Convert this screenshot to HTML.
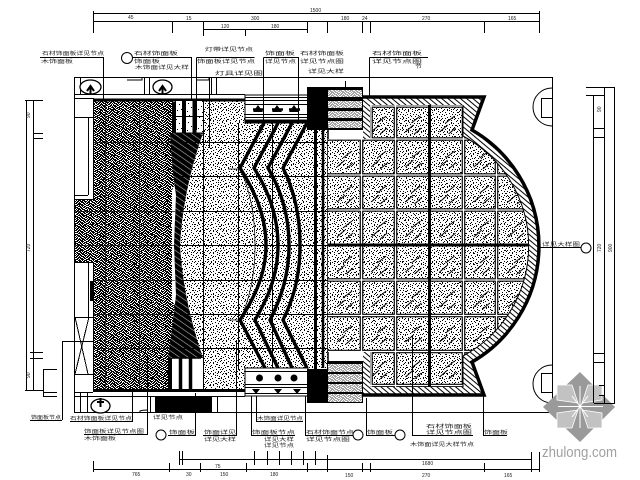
<!DOCTYPE html>
<html><head><meta charset="utf-8"><style>
html,body{margin:0;padding:0;background:#fff;width:640px;height:480px;overflow:hidden}
svg{display:block}
text{font-family:"Liberation Sans","Noto Sans CJK SC",sans-serif;font-size:5px;fill:#222}
</style></head><body>
<svg width="640" height="480" viewBox="0 0 640 480" xmlns="http://www.w3.org/2000/svg">
<defs>
<pattern id="la" patternUnits="userSpaceOnUse" width="13" height="11"><path shape-rendering="crispEdges" stroke="#000" d="M1 .5h1M5 .5h1M9 1.5h1M3 2.5h1M11 2.5h1M7 3.5h1M0 4.5h1M4 4.5h1M10 4.5h1M2 5.5h1M8 6.5h1M12 6.5h1M5 7.5h1M0 8.5h1M3 8.5h1M10 8.5h1M7 9.5h1M12 9.5h1M2 10.5h1M5 10.5h1M9 10.5h1"/></pattern>
<pattern id="lb" patternUnits="userSpaceOnUse" width="17" height="19"><path shape-rendering="crispEdges" stroke="#000" d="M2 1.5h1M12 3.5h1M6 5.5h1M15 6.5h1M1 8.5h1M9 9.5h1M14 11.5h1M4 12.5h1M11 14.5h1M7 15.5h1M0 16.5h1M15 17.5h1"/></pattern>
<pattern id="lw" patternUnits="userSpaceOnUse" width="17" height="19"><path shape-rendering="crispEdges" stroke="#fff" d="M2 1.500h2M12 3.500h1M6 5.500h2M15 6.500h1M1 8.500h1M9 9.500h2M14 11.500h1M4 12.500h2M11 14.500h1M7 15.500h1M0 16.500h2M15 17.500h1"/></pattern>
<pattern id="dk" patternUnits="userSpaceOnUse" width="11" height="9"><rect width="11" height="9" fill="#000"/><path shape-rendering="crispEdges" stroke="#fff" d="M1 .5h2M5 .5h1M8 .5h1M3 1.5h1M6 1.5h2M10 1.5h1M0 2.5h1M4 2.5h1M8 2.5h2M2 3.5h1M5 3.5h2M10 3.5h1M1 4.5h1M3 4.5h1M7 4.5h1M9 4.5h1M0 5.5h1M4 5.5h2M8 5.5h1M2 6.5h1M6 6.5h1M9 6.5h2M1 7.5h1M3 7.5h1M7 7.5h2M0 8.5h1M4 8.5h1M6 8.5h1M10 8.5h1"/></pattern>
<pattern id="ha" patternUnits="userSpaceOnUse" width="4" height="4" patternTransform="rotate(-50)"><rect width="4" height="4" fill="#fff"/><rect width="1" height="4" fill="#000"/></pattern>
<pattern id="hw" patternUnits="userSpaceOnUse" width="5" height="5" patternTransform="rotate(-55)"><rect width=".6" height="5" fill="#fff" fill-opacity=".7"/></pattern>
<pattern id="tl" patternUnits="userSpaceOnUse" x="328" y="107" width="34.2" height="35"><path stroke="#000" fill="none" stroke-width="1" d="M9 25L17 18M15 16L24 9M18 27L25 21"/></pattern>
<clipPath id="inner"><path d="M328 139H370V105H463V136A125 125 0 0 1 463 356V387H370V352H328Z"/></clipPath>
</defs>
<rect width="640" height="480" fill="#fff"/>

<!-- dark floor -->
<path d="M93 100H176V134H203L172 190V300L203 358H168V390H93V262H75V199H93Z" fill="url(#dk)"/>
<path d="M93 100H176V134H172V358H168V390H93V262H75V199H93Z" fill="url(#lw)"/>
<path d="M93 100H176V134H172V358H168V390H93V262H75V199H93Z" fill="url(#lb)"/>
<!-- light floor -->
<path d="M203 100H245V123H328V370H245V390H203V358Q183 300 180 245Q183 190 203 134Z" fill="#fff"/>
<path d="M203 100H245V123H328V370H245V390H203V358Q183 300 180 245Q183 190 203 134Z" fill="url(#la)"/>
<path d="M203 100H245V123H328V370H245V390H203V358Q183 300 180 245Q183 190 203 134Z" fill="url(#lb)"/>
<!-- dense wedge -->
<path d="M203 133H170Q172 170 176 195L174 245L176 295Q172 330 168 358H203Q183 300 180 245Q183 190 203 133Z" fill="#000"/>
<path d="M203 133H170Q172 170 176 195L174 245L176 295Q172 330 168 358H203Q183 300 180 245Q183 190 203 133Z" fill="url(#hw)"/>

<!-- floor grid -->
<g stroke="#000" stroke-width="1" fill="none" shape-rendering="crispEdges">
<path d="M180 142.500H328M180 176.500H328M180 211.500H328M180 245.500H328M180 280.500H328M180 314.500H328M180 348.500H328M203.500 100V390M238.500 123V370M272.500 123V370"/>
<path d="M105.500 100V390M139.500 100V390M93 142.500H175M75 211.500H175M75 245.500H175M93 280.500H175M93 314.500H175M93 348.500H175" stroke-opacity=".7"/>
</g>

<!-- room outline -->
<g stroke="#000" fill="none" shape-rendering="crispEdges">
<path d="M74.500 77.500H552.500V412.500H74.500Z"/>
<path d="M75 94.500H245M80.500 78V94M144.500 78V94M149.500 78V94M196.500 78V94M211.500 78V94M216.500 78V94"/>
<path d="M75 98.500H93.500V199.500H75M75 117.500H93M88.500 117V195M75 195.500H88"/>
<path d="M93.500 262.500H75M93.500 262V392M88.500 262V317M75 317.500H93M75 374.500H93M75 392.500H93M89 317L75 374M75 317L88 374M80.500 392V412M87.500 392V412"/>
<path d="M75 396.500H245M150.500 396V412M217.500 396V412"/>
</g>
<rect x="93" y="98.500" width="152" height="3" fill="#000"/>
<rect x="93" y="389" width="152" height="3" fill="#000"/>
<rect x="90" y="281" width="3" height="20" fill="#000"/>

<!-- top columns -->
<rect x="176" y="101" width="27" height="32" fill="#fff"/>
<rect x="176" y="101" width="27" height="32" fill="url(#lb)"/>
<path d="M184 101V133M194.500 101V133" stroke="#000" stroke-width="4"/>
<path d="M174 102V133" stroke="#000" stroke-width="4"/>
<path d="M176 116.500H203M176 133H203" stroke="#000" stroke-width="1"/>
<!-- bottom columns -->
<rect x="172" y="358" width="29" height="31" fill="#fff"/>
<path d="M180.500 358V389M190.500 358V389" stroke="#000" stroke-width="3.500"/>
<path d="M170 358V389" stroke="#000" stroke-width="4"/>
<path d="M172 358H201" stroke="#000" stroke-width="1.500"/>

<!-- door and black strip -->
<rect x="155" y="397" width="57" height="15" fill="#000"/>
<path d="M140 412V411Q142 410 148 410" stroke="#000" fill="none"/>

<!-- sinks -->
<g fill="#fff" stroke="#000" stroke-width="1.300">
<ellipse cx="90.500" cy="87" rx="10.500" ry="7"/>
<ellipse cx="162.500" cy="87" rx="9.500" ry="7"/>
<ellipse cx="100.500" cy="406" rx="9.500" ry="7"/>
</g>
<path d="M90.500 86V94M162.500 86V94M100.500 398V407M87 91L90.500 86L94 91M159 91L162.500 86L166 91M97 402H104" stroke="#000" stroke-width="2" fill="none"/>
<path d="M127 80H142V77M197 80H209V77" stroke="#000" fill="none"/>

<!-- chevrons -->
<g stroke="#000" stroke-width="3.400" fill="none">
<path d="M264 123L240 168C254 190 266 215 266 245C266 275 254 298 240 320L265 368"/>
<path d="M278 123L254 168C268 190 278 215 278 245C278 275 268 298 255 320L278 368"/>
<path d="M292 123L268 168C281 190 289 215 289 245C289 275 281 298 270 320L292 368"/>
<path d="M307 123L283 168C294 190 300 215 300 245C300 275 294 298 283 320L307 368"/>
</g>
<path d="M228 169H240C250 190 255 215 255 245C255 275 250 298 240 320H228" stroke="#000" stroke-width=".7" fill="none"/>
<path d="M315.500 120V372" stroke="#000" stroke-width="3"/>
<path d="M323 123V368" stroke="#000" stroke-width="2.500"/>
<path d="M328 123V368" stroke="#000" stroke-width="1.500"/>

<!-- tiled panel -->
<path d="M363 97H484L472 130A134 134 0 0 1 472 362L484 395H363V352H328V139H363Z" fill="url(#ha)"/>
<path d="M328 139H370V105H463V136A125 125 0 0 1 463 356V387H370V352H328Z" fill="#fff"/>
<path d="M328 139H370V105H463V136A125 125 0 0 1 463 356V387H370V352H328Z" fill="url(#la)"/>
<path d="M328 139H370V105H463V136A125 125 0 0 1 463 356V387H370V352H328Z" fill="url(#lb)"/>
<path d="M328 139H370V105H463V136A125 125 0 0 1 463 356V387H370V352H328Z" fill="url(#tl)"/>
<g clip-path="url(#inner)" fill="none">
<path stroke="#000" stroke-width="3.600" d="M361.500 139V352M395.500 100V392M463.500 100V392M496.500 100V392M327 139H540M327 175H540M327 210H540M327 280H540M327 315.500H540M327 351.500H540M371 100V139M371 352V392M327 106H540M327 385.500H540"/>
<path stroke="#fff" stroke-width="1.300" d="M361.500 139V352M395.500 100V392M463.500 100V392M496.500 100V392M327 139H540M327 175H540M327 210H540M327 280H540M327 315.500H540M327 351.500H540M371 100V139M371 352V392M327 106H540M327 385.500H540"/>
<path stroke="#000" stroke-width="3" d="M429.500 100V392M327 245H540"/>
</g>
<path d="M363 97H484L472 130A134 134 0 0 1 472 362L484 395H363" fill="none" stroke="#000" stroke-width="3.500"/>
<path d="M463 136A125 125 0 0 1 463 356M463 105V136M463 356V387" fill="none" stroke="#000" stroke-width="1"/>

<!-- top block -->
<rect x="245" y="95" width="63" height="28" fill="#fff" stroke="#000"/>
<path d="M245 97.500H307M245 100.500H307M245 104.500H307M245 114.500H307M245 117.500H307" stroke="#000" stroke-width=".9"/>
<rect x="245" y="119.500" width="63" height="3.500" fill="#000"/>
<path d="M253 109.500H264M272 109.500H283M289 109.500H300" stroke="#000" stroke-width="2.500"/>
<path d="M258 105L253 112H263ZM277 105L272 112H282ZM294 105L289 112H299Z" fill="#000"/>
<!-- bottom block -->
<rect x="245" y="368" width="63" height="28" fill="#fff" stroke="#000"/>
<path d="M245 371.500H307M245 384.500H307M245 387.500H307M245 393.500H307" stroke="#000" stroke-width=".9"/>
<g fill="#000"><circle cx="259.500" cy="378" r="3.500"/><circle cx="278" cy="378" r="3.500"/><circle cx="294" cy="378" r="3.500"/>
<path d="M252 389H260L256 394ZM274 389H282L278 394ZM293 389H301L297 394Z"/></g>

<!-- black and stripes -->
<rect x="307" y="87" width="56" height="43" fill="#000"/>
<rect x="307" y="369" width="20" height="34" fill="#000"/>
<rect x="327" y="361" width="36" height="42" fill="#000"/>
<g fill="#fff"><rect x="328" y="90" width="34" height="7"/><rect x="328" y="101" width="34" height="7"/><rect x="328" y="111" width="34" height="7"/><rect x="328" y="121" width="34" height="7"/><rect x="328" y="364" width="34" height="8"/><rect x="328" y="374" width="34" height="8"/><rect x="328" y="384" width="34" height="8"/><rect x="328" y="394" width="34" height="8"/></g>
<g fill="url(#dk)" opacity=".35"><rect x="328" y="90" width="34" height="7"/><rect x="328" y="101" width="34" height="7"/><rect x="328" y="111" width="34" height="7"/><rect x="328" y="121" width="34" height="7"/><rect x="328" y="364" width="34" height="8"/><rect x="328" y="374" width="34" height="8"/><rect x="328" y="384" width="34" height="8"/><rect x="328" y="394" width="34" height="8"/></g>

<!-- right doors -->
<g stroke="#000" fill="none">
<path d="M552 88A19 19 0 0 0 552 126"/><path d="M552 98.500H541.500V117.500H552"/>
<path d="M552 365A19 19 0 0 0 552 403"/><path d="M552 373.500H541.500V392.500H552"/>
</g>

<!-- watermark -->
<g>
<path d="M580 372L615 407L580 442L543 407Z" fill="#9a9a9a"/>
<g fill="#c2c2c2" stroke="#fff" stroke-width=".8">
<path d="M557 385H572L578 403L557 400Z"/>
<path d="M602 385H588L582 403L602 400Z"/>
<path d="M557 428H572L578 410L557 413Z"/>
<path d="M602 428H588L582 410L602 413Z"/>
</g>
<path d="M580 386V428M558 406.500H603M572 396L588 417M588 396L572 417" stroke="#fff" stroke-width="1"/>
</g>
<text x="542" y="457" style="font-size:15px;fill:#a0a0a0" textLength="75" lengthAdjust="spacingAndGlyphs">zhulong.com</text>

<!-- leaders and dims -->
<g stroke="#000" fill="none" shape-rendering="crispEdges">
<path d="M93 13.500H540M93 21.500H540M93.500 11V33M172.500 21V33M203.500 21V36M307.500 21V33M327.500 21V33M362.500 21V33M370.500 21V33M484.500 21V33M539.500 11V33M203 29.500H308M245.500 29V36"/>
<path d="M40 57.500H103.500V100M133 57.500H191.500V100M196.500 57.500H254.500M196.500 57.500V130M209.500 78V148M263.500 57.500H299M263.500 57.500V122M298.500 57.500V122M369.500 57.500H428M369.500 57.500V97M345.500 81V90"/>
<path d="M26.500 100V390M33.500 100V390M25 100.500H43M33 133.500H43M33 138.500H43M30 352.500H43M30 358.500H43M25 390.500H43M43.500 369V396M43 369.500H57M43 392.500H57M43 396.500H57"/>
<path d="M593.500 95V403M604.500 87V403M614.500 87V403M586 87.500H615M586 95.500H604M594 128.500H604M594 137.500H604M594 353.500H604M594 362.500H604M594 403.500H615M599 385.500H604M599 395.500H604"/>
<path d="M93 341.500H62.500V420M30 420.500H62M70 421.500H132.500V390M84 434.500H147.500V355M168 435.500H195.500V393M203 435.500H236.500V340M251 435.500H295M251.500 396V435M256 421.500H303M256.500 396V421M305.500 396V435M305 435.500H353M366.500 398V435M366 435.500H395M412.500 335V435M412 435.500H473M483.500 395V435M483 435.500H507"/>
<path d="M180 459.500H531M93 469.500H540M93.500 461V472M169.500 463V472M200.500 463V472M246.500 463V472M307.500 463V472M327.500 455V472M362.500 463V472M370.500 463V472M484.500 463V472M531.500 452V472M539.500 452V472M179.500 451V465M182.500 451V465M254.500 451V465M267.500 451V465M279.500 451V465M291.500 451V465M303.500 451V465M315.500 451V465"/>
<path d="M540 247.500H581"/>
</g>
<g fill="#fff" stroke="#000"><circle cx="127" cy="58" r="5.500"/><circle cx="161" cy="435" r="5"/><circle cx="358" cy="435" r="5"/><circle cx="400" cy="435" r="5"/><circle cx="586" cy="248" r="5"/></g>

<!-- labels -->
<text x="42" y="55" textLength="62" lengthAdjust="spacingAndGlyphs">石材饰面板详见节点</text>
<text x="41" y="63" textLength="32" lengthAdjust="spacingAndGlyphs">木饰面板</text>
<text x="134" y="55" textLength="44" lengthAdjust="spacingAndGlyphs">石材饰面板</text>
<text x="134" y="63" textLength="26" lengthAdjust="spacingAndGlyphs">饰面板</text>
<text x="135" y="69" textLength="54" lengthAdjust="spacingAndGlyphs">木饰面详见大样</text>
<text x="205" y="51" textLength="48" lengthAdjust="spacingAndGlyphs">灯带详见节点</text>
<text x="197" y="63" textLength="58" lengthAdjust="spacingAndGlyphs">饰面板详见节点</text>
<text x="215" y="75" textLength="48" lengthAdjust="spacingAndGlyphs">灯具详见图</text>
<text x="265" y="55" textLength="30" lengthAdjust="spacingAndGlyphs">饰面板</text>
<text x="265" y="63" textLength="31" lengthAdjust="spacingAndGlyphs">详见节点</text>
<text x="300" y="55" textLength="44" lengthAdjust="spacingAndGlyphs">石材饰面板</text>
<text x="300" y="63" textLength="44" lengthAdjust="spacingAndGlyphs">详见节点图</text>
<text x="308" y="73" textLength="36" lengthAdjust="spacingAndGlyphs">详见大样</text>
<text x="372" y="55" textLength="50" lengthAdjust="spacingAndGlyphs">石材饰面板</text>
<text x="372" y="63" textLength="50" lengthAdjust="spacingAndGlyphs">详见节点图</text>
<text x="415" y="68" textLength="7" lengthAdjust="spacingAndGlyphs">节</text>
<text x="128" y="19">45</text>
<text x="186" y="20">15</text>
<text x="251" y="20">300</text>
<text x="221" y="28">120</text>
<text x="271" y="28">180</text>
<text x="310" y="12">1500</text>
<text x="341" y="20">180</text>
<text x="362" y="20">24</text>
<text x="422" y="20">270</text>
<text x="508" y="20">165</text>
<text x="30" y="118" transform="rotate(-90 30 118)">90</text>
<text x="30" y="252" transform="rotate(-90 30 252)">720</text>
<text x="30" y="378" transform="rotate(-90 30 378)">90</text>
<text x="601" y="112" transform="rotate(-90 601 112)">90</text>
<text x="601" y="252" transform="rotate(-90 601 252)">720</text>
<text x="612" y="252" transform="rotate(-90 612 252)">900</text>
<text x="31" y="419" textLength="30" lengthAdjust="spacingAndGlyphs">饰面板节点</text>
<text x="70" y="420" textLength="62" lengthAdjust="spacingAndGlyphs">石材饰面板详见节点</text>
<text x="84" y="433" textLength="60" lengthAdjust="spacingAndGlyphs">饰面板详见节点图</text>
<text x="84" y="440" textLength="32" lengthAdjust="spacingAndGlyphs">木饰面板</text>
<text x="169" y="434" textLength="26" lengthAdjust="spacingAndGlyphs">饰面板</text>
<text x="153" y="419" textLength="30" lengthAdjust="spacingAndGlyphs">详见节点</text>
<text x="204" y="434" textLength="32" lengthAdjust="spacingAndGlyphs">饰面详见</text>
<text x="204" y="441" textLength="32" lengthAdjust="spacingAndGlyphs">详见大样</text>
<text x="257" y="420" textLength="46" lengthAdjust="spacingAndGlyphs">木饰面详见节点</text>
<text x="252" y="434" textLength="43" lengthAdjust="spacingAndGlyphs">饰面板节点</text>
<text x="264" y="441" textLength="30" lengthAdjust="spacingAndGlyphs">详见大样</text>
<text x="264" y="447" textLength="30" lengthAdjust="spacingAndGlyphs">详见节点</text>
<text x="306" y="434" textLength="48" lengthAdjust="spacingAndGlyphs">石材饰面节点</text>
<text x="306" y="441" textLength="44" lengthAdjust="spacingAndGlyphs">详见节点图</text>
<text x="367" y="434" textLength="26" lengthAdjust="spacingAndGlyphs">饰面板</text>
<text x="426" y="428" textLength="46" lengthAdjust="spacingAndGlyphs">石材饰面板</text>
<text x="426" y="434" textLength="46" lengthAdjust="spacingAndGlyphs">详见节点图</text>
<text x="410" y="446" textLength="64" lengthAdjust="spacingAndGlyphs">木饰面详见大样节点</text>
<text x="484" y="434" textLength="24" lengthAdjust="spacingAndGlyphs">饰面板</text>
<text x="542" y="246" textLength="38" lengthAdjust="spacingAndGlyphs">详见大样图</text>
<text x="215" y="468">75</text>
<text x="132" y="476">765</text>
<text x="186" y="476">30</text>
<text x="220" y="476">150</text>
<text x="270" y="476">180</text>
<text x="422" y="465">1680</text>
<text x="345" y="477">150</text>
<text x="422" y="477">270</text>
<text x="504" y="477">165</text>
</svg>
</body></html>
